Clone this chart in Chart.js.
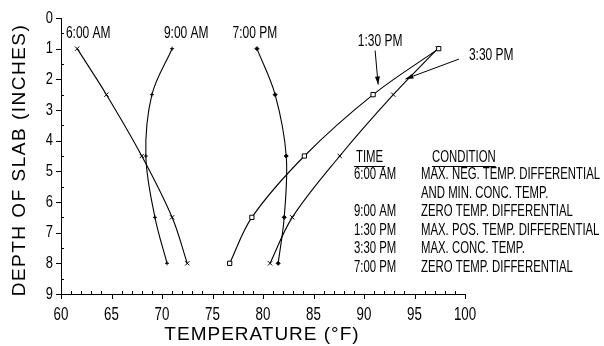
<!DOCTYPE html>
<html>
<head>
<meta charset="utf-8">
<script src="https://cdn.jsdelivr.net/npm/chart.js@4/dist/chart.umd.min.js"></script>
<style>
  html, body { margin: 0; padding: 0; background: #fff; }
  #wrap { width: 604px; height: 346px; }
</style>
</head>
<body>
<div id="wrap"><canvas id="c" width="604" height="346"></canvas></div>
<script>
// Slab depth (inches) at which temperatures were measured
const depths = [1, 2.5, 4.5, 6.5, 8];

// Concrete temperature (°F) at each depth, by time of day
const temp0600 = [61.6, 64.5, 68.0, 71.0, 72.5];
const temp0900 = [71.0, 69.0, 68.4, 69.3, 70.5];
const temp1330 = [97.4, 90.9, 84.1, 78.9, 76.7];
const temp1530 = [97.3, 92.9, 87.6, 82.9, 80.7];
const temp1900 = [79.4, 81.2, 82.3, 82.1, 81.5];

// Axis tick labels
const tempTicks = [60, 65, 70, 75, 80, 85, 90, 95, 100];
const depthTicks = [0, 1, 2, 3, 4, 5, 6, 7, 8, 9];

// Condition table
const tableTimes = ['6:00 AM', '', '9:00 AM', '1:30 PM', '3:30 PM', '7:00 PM'];
const tableConditions = [
  'MAX. NEG. TEMP. DIFFERENTIAL',
  'AND MIN. CONC. TEMP.',
  'ZERO TEMP. DIFFERENTIAL',
  'MAX. POS. TEMP. DIFFERENTIAL',
  'MAX. CONC. TEMP.',
  'ZERO TEMP. DIFFERENTIAL'
];

// Curve labels, placed in data units (temperature, depth)
const curveLabels = [
  { text: '6:00 AM', t: 62.7, d: 0.5 },
  { text: '9:00 AM', t: 72.4, d: 0.5 },
  { text: '7:00 PM', t: 79.2, d: 0.5 },
  { text: '1:30 PM', t: 91.6, d: 0.76 },
  { text: '3:30 PM', t: 102.6, d: 1.22 }
];
// Leader arrows from label to curve: [fromT, fromD, toT, toD]
const leaders = [
  [91.1, 1.06, 91.4, 2.17],
  [99.4, 1.34, 94.1, 1.99]
];

const pts = temps => temps.map((t, i) => ({ x: t, y: depths[i] }));

const FONT = "'Liberation Sans', 'Arial', sans-serif";

// narrow, tall lettering: draw a regular face and compress it horizontally
function squeezedText(ctx, text, x, y, align, size, squeeze) {
  ctx.save();
  ctx.font = size + 'px ' + FONT;
  ctx.textBaseline = 'middle';
  const w = ctx.measureText(text).width * squeeze;
  let left = x;
  if (align === 'center') left = x - w / 2;
  if (align === 'right') left = x - w;
  ctx.translate(left, y);
  ctx.scale(squeeze, 1);
  ctx.textAlign = 'left';
  ctx.fillText(text, 0, 0);
  ctx.restore();
  return w;
}

function line(ctx, x1, y1, x2, y2) {
  ctx.beginPath();
  ctx.moveTo(x1, y1);
  ctx.lineTo(x2, y2);
  ctx.stroke();
}

const LBL = 16, SQ = 0.71;

const decorations = {
  id: 'decorations',
  afterDraw(chart) {
    const ctx = chart.ctx;
    const xs = chart.scales.x, ys = chart.scales.y;
    ctx.save();
    ctx.strokeStyle = '#000';
    ctx.fillStyle = '#000';
    ctx.lineWidth = 1;

    // temperature axis: minor ticks up, major ticks down
    for (let t = xs.min; t <= xs.max; t += 1) {
      const px = Math.round(xs.getPixelForValue(t)) + 0.5;
      if (t % 5 === 0) line(ctx, px, ys.bottom, px, ys.bottom + 5);
      else line(ctx, px, ys.bottom, px, ys.bottom - 3);
    }
    // depth axis: major ticks left, minor ticks right
    for (let d = ys.min; d <= ys.max; d += 0.5) {
      const py = Math.round(ys.getPixelForValue(d)) + 0.5;
      if (d % 1 === 0) line(ctx, xs.left - 5, py, xs.left, py);
      else line(ctx, xs.left, py, xs.left + 3, py);
    }

    // tick labels
    tempTicks.forEach(v => {
      squeezedText(ctx, String(v), xs.getPixelForValue(v), ys.bottom + 21, 'center', 18, 0.74);
    });
    depthTicks.forEach(v => {
      squeezedText(ctx, String(v), xs.left - 8, ys.getPixelForValue(v), 'right', 17, 0.76);
    });

    // curve labels
    curveLabels.forEach(l => {
      squeezedText(ctx, l.text, xs.getPixelForValue(l.t), ys.getPixelForValue(l.d), 'center', LBL, 0.75);
    });

    // leader arrows
    leaders.forEach(([t1, d1, t2, d2]) => {
      const x1 = xs.getPixelForValue(t1), y1 = ys.getPixelForValue(d1);
      const x2 = xs.getPixelForValue(t2), y2 = ys.getPixelForValue(d2);
      line(ctx, x1, y1, x2, y2);
      const a = Math.atan2(y2 - y1, x2 - x1);
      const L = 8, W = 2.5;
      ctx.beginPath();
      ctx.moveTo(x2, y2);
      ctx.lineTo(x2 - L * Math.cos(a) + W * Math.sin(a), y2 - L * Math.sin(a) - W * Math.cos(a));
      ctx.lineTo(x2 - L * Math.cos(a) - W * Math.sin(a), y2 - L * Math.sin(a) + W * Math.cos(a));
      ctx.closePath();
      ctx.fill();
    });

    // condition table
    const col1 = 354, col2 = 421, headY = 158;
    const wTime = squeezedText(ctx, 'TIME', col1 + 2, headY, 'left', LBL, SQ);
    const wCond = squeezedText(ctx, 'CONDITION', col2 + 11, headY, 'left', LBL, SQ);
    line(ctx, col1, headY + 8.5, col1 + wTime + 4, headY + 8.5);
    line(ctx, col2 + 11, headY + 8.5, col2 + 11 + wCond, headY + 8.5);
    const rowY = [175, 193.5, 212, 230.5, 249, 267.5];
    tableTimes.forEach((t, i) => {
      if (t) squeezedText(ctx, t, col1, rowY[i], 'left', LBL, SQ);
      squeezedText(ctx, tableConditions[i], col2, rowY[i], 'left', LBL, SQ);
    });

    // axis titles
    ctx.font = '19px ' + FONT;
    ctx.textBaseline = 'middle';
    ctx.textAlign = 'center';
    ctx.letterSpacing = '1px';
    ctx.fillText('TEMPERATURE (\u00B0F)', 262, 335);
    ctx.translate(20, 160);
    ctx.rotate(-Math.PI / 2);
    ctx.letterSpacing = '1.5px';
    ctx.fillText('DEPTH OF SLAB (INCHES)', 0, 0);
    ctx.restore();
  }
};

const series = (label, temps, style, radius, fill) => ({
  label,
  data: pts(temps),
  showLine: true,
  tension: 0.35,
  borderColor: '#000',
  borderWidth: 1.1,
  pointStyle: style,
  pointRadius: radius,
  pointBorderColor: '#000',
  pointBackgroundColor: fill,
  pointBorderWidth: 1
});

new Chart(document.getElementById('c'), {
  type: 'scatter',
  data: {
    datasets: [
      series('6:00 AM', temp0600, 'crossRot', 3, '#fff'),
      series('9:00 AM', temp0900, 'cross', 2, '#fff'),
      series('1:30 PM', temp1330, 'rect', 3, '#fff'),
      series('3:30 PM', temp1530, 'crossRot', 3, '#fff'),
      series('7:00 PM', temp1900, 'rectRot', 2, '#000')
    ]
  },
  options: {
    responsive: false,
    animation: false,
    devicePixelRatio: 1,
    layout: { padding: { top: 18, right: 139, left: 0, bottom: 0 } },
    plugins: { legend: { display: false }, tooltip: { enabled: false } },
    scales: {
      x: {
        type: 'linear',
        min: tempTicks[0],
        max: tempTicks[tempTicks.length - 1],
        afterBuildTicks: s => { s.ticks = tempTicks.map(v => ({ value: v })); },
        afterFit: s => { s.height = 52; },
        grid: { display: false, drawTicks: false },
        border: { display: true, color: '#000', width: 1 },
        ticks: { display: false }
      },
      y: {
        type: 'linear',
        reverse: true,
        min: depthTicks[0],
        max: depthTicks[depthTicks.length - 1],
        afterBuildTicks: s => { s.ticks = depthTicks.map(v => ({ value: v })); },
        afterFit: s => { s.width = 61; },
        grid: { display: false, drawTicks: false },
        border: { display: true, color: '#000', width: 1 },
        ticks: { display: false }
      }
    }
  },
  plugins: [decorations]
});
</script>
</body>
</html>
